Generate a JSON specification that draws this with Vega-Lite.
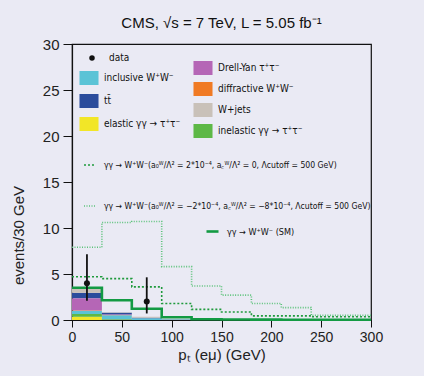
{
  "$schema": "https://vega.github.io/schema/vega-lite/v6.json",
  "width": 299,
  "height": 276,
  "autosize": "none",
  "padding": {"left": 72, "top": 44, "right": 53, "bottom": 56},
  "background": "#eaeaf4",
  "title": {"text": "CMS, √s = 7 TeV, L = 5.05 fb⁻¹", "fontSize": 15, "fontWeight": "normal", "font": "Liberation Sans", "color": "#111", "offset": 6, "anchor": "middle"},
  "config": {
    "view": {"stroke": "#111", "strokeWidth": 1.2},
    "font": "Liberation Sans",
    "legend": {"labelFont": "Liberation Sans Narrow, DejaVu Sans Condensed, Liberation Sans", "labelFontSize": 10, "labelColor": "#111", "padding": 0, "labelLimit": 400, "title": null}
  },
  "datasets": {
    "bars": [
      {"bin_start": 0, "bin_end": 30, "process": "elastic γγ → τ⁺τ⁻", "events": 0.35},
      {"bin_start": 0, "bin_end": 30, "process": "inelastic γγ → τ⁺τ⁻", "events": 0.3},
      {"bin_start": 0, "bin_end": 30, "process": "inclusive W⁺W⁻", "events": 0.35},
      {"bin_start": 0, "bin_end": 30, "process": "diffractive W⁺W⁻", "events": 0.05},
      {"bin_start": 0, "bin_end": 30, "process": "Drell-Yan τ⁺τ⁻", "events": 1.3},
      {"bin_start": 0, "bin_end": 30, "process": "tt̄", "events": 0.6},
      {"bin_start": 0, "bin_end": 30, "process": "W+jets", "events": 0.45},
      {"bin_start": 30, "bin_end": 60, "process": "elastic γγ → τ⁺τ⁻", "events": 0.02},
      {"bin_start": 30, "bin_end": 60, "process": "inelastic γγ → τ⁺τ⁻", "events": 0.05},
      {"bin_start": 30, "bin_end": 60, "process": "inclusive W⁺W⁻", "events": 0.45},
      {"bin_start": 30, "bin_end": 60, "process": "diffractive W⁺W⁻", "events": 0.02},
      {"bin_start": 30, "bin_end": 60, "process": "Drell-Yan τ⁺τ⁻", "events": 0.05},
      {"bin_start": 30, "bin_end": 60, "process": "tt̄", "events": 0.2},
      {"bin_start": 30, "bin_end": 60, "process": "W+jets", "events": 0.05},
      {"bin_start": 60, "bin_end": 90, "process": "inclusive W⁺W⁻", "events": 0.2},
      {"bin_start": 60, "bin_end": 90, "process": "tt̄", "events": 0.05},
      {"bin_start": 60, "bin_end": 90, "process": "W+jets", "events": 0.1},
      {"bin_start": 90, "bin_end": 120, "process": "inclusive W⁺W⁻", "events": 0.05},
      {"bin_start": 120, "bin_end": 150, "process": "inclusive W⁺W⁻", "events": 0.03}
    ],
    "lines": [
      {"series": "a", "x": 0, "events": 4.7},
      {"series": "a", "x": 30, "events": 4.5},
      {"series": "a", "x": 60, "events": 3.6},
      {"series": "a", "x": 90, "events": 1.8},
      {"series": "a", "x": 120, "events": 1.15},
      {"series": "a", "x": 150, "events": 0.87},
      {"series": "a", "x": 180, "events": 0.45},
      {"series": "a", "x": 210, "events": 0.45},
      {"series": "a", "x": 240, "events": 0.35},
      {"series": "a", "x": 270, "events": 0.35},
      {"series": "a", "x": 300, "events": 0.35},
      {"series": "b", "x": 0, "events": 7.9},
      {"series": "b", "x": 30, "events": 10.6},
      {"series": "b", "x": 60, "events": 10.7},
      {"series": "b", "x": 90, "events": 5.8},
      {"series": "b", "x": 120, "events": 3.7},
      {"series": "b", "x": 150, "events": 2.7},
      {"series": "b", "x": 180, "events": 1.8},
      {"series": "b", "x": 210, "events": 1.35},
      {"series": "b", "x": 240, "events": 0.5},
      {"series": "b", "x": 270, "events": 0.5},
      {"series": "b", "x": 300, "events": 0.5}
    ],
    "sm": [
      {"series": "γγ → W⁺W⁻ (SM)", "x": 0, "events": 3.5},
      {"series": "γγ → W⁺W⁻ (SM)", "x": 30, "events": 2.15},
      {"series": "γγ → W⁺W⁻ (SM)", "x": 60, "events": 1.23},
      {"series": "γγ → W⁺W⁻ (SM)", "x": 90, "events": 0.3},
      {"series": "γγ → W⁺W⁻ (SM)", "x": 120, "events": 0.08},
      {"series": "γγ → W⁺W⁻ (SM)", "x": 150, "events": 0.05},
      {"series": "γγ → W⁺W⁻ (SM)", "x": 180, "events": 0.04},
      {"series": "γγ → W⁺W⁻ (SM)", "x": 210, "events": 0.03},
      {"series": "γγ → W⁺W⁻ (SM)", "x": 240, "events": 0.03},
      {"series": "γγ → W⁺W⁻ (SM)", "x": 270, "events": 0.02},
      {"series": "γγ → W⁺W⁻ (SM)", "x": 300, "events": 0.02}
    ],
    "points": [
      {"label": "data", "x": 15, "events": 4, "lo": 2.09, "hi": 7.16},
      {"label": "data", "x": 75, "events": 2, "lo": 0.71, "hi": 4.64}
    ]
  },
  "layer": [
    {
      "data": {"name": "bars"},
      "transform": [
        {"window": [{"op": "row_number", "as": "idx"}]},
        {"stack": "events", "groupby": ["bin_start"], "sort": [{"field": "idx", "order": "ascending"}], "as": ["y0", "y1"]},
        {"filter": {"field": "process", "oneOf": ["inclusive W⁺W⁻", "tt̄", "elastic γγ → τ⁺τ⁻"]}}
      ],
      "mark": {"type": "rect", "strokeWidth": 0},
      "encoding": {
        "x": {"field": "bin_start", "type": "quantitative", "scale": {"domain": [0, 300], "nice": false}, "axis": {"values": [0, 50, 100, 150, 200, 250, 300], "title": "pₜ (eμ) (GeV)", "titleFontSize": 15, "titleFontWeight": "normal", "titleColor": "#222", "titlePadding": 3, "labelFontSize": 14, "labelColor": "#222", "labelPadding": 3, "tickSize": 7, "tickColor": "#111", "domainColor": "#111", "domainWidth": 1.2, "grid": false, "labelFlush": false}},
        "x2": {"field": "bin_end"},
        "y": {"field": "y0", "type": "quantitative", "scale": {"domain": [0, 30], "nice": false}, "axis": {"values": [0, 5, 10, 15, 20, 25, 30], "title": "events/30 GeV", "titleFontSize": 15, "titleFontWeight": "normal", "titleColor": "#222", "titleX": -46, "titleY": 191, "labelFontSize": 15, "labelColor": "#222", "labelPadding": 4, "tickSize": 9, "tickColor": "#111", "domainColor": "#111", "domainWidth": 1.2, "grid": false, "labelFlush": false}},
        "y2": {"field": "y1"},
        "fill": {"field": "process", "type": "nominal", "scale": {"domain": ["inclusive W⁺W⁻", "tt̄", "elastic γγ → τ⁺τ⁻"], "range": ["#5bc3d6", "#2b4c9c", "#f2e627"]}, "legend": {"orient": "none", "legendX": 10, "legendY": 27, "direction": "vertical", "symbolType": "M-1.36,-1H1.36V1H-1.36Z", "symbolSize": 196, "symbolStrokeWidth": 0, "symbolOpacity": 1, "labelOffset": 8, "rowPadding": 9}}
      }
    },
    {
      "data": {"name": "bars"},
      "transform": [
        {"window": [{"op": "row_number", "as": "idx"}]},
        {"stack": "events", "groupby": ["bin_start"], "sort": [{"field": "idx", "order": "ascending"}], "as": ["y0", "y1"]},
        {"filter": {"field": "process", "oneOf": ["Drell-Yan τ⁺τ⁻", "diffractive W⁺W⁻", "W+jets", "inelastic γγ → τ⁺τ⁻"]}}
      ],
      "mark": {"type": "rect", "strokeWidth": 0},
      "encoding": {
        "x": {"field": "bin_start", "type": "quantitative"},
        "x2": {"field": "bin_end"},
        "y": {"field": "y0", "type": "quantitative"},
        "y2": {"field": "y1"},
        "fill": {"field": "process", "type": "nominal", "scale": {"domain": ["Drell-Yan τ⁺τ⁻", "diffractive W⁺W⁻", "W+jets", "inelastic γγ → τ⁺τ⁻"], "range": ["#b566b6", "#f07a24", "#c9c1b9", "#5db846"]}, "legend": {"orient": "none", "legendX": 124, "legendY": 17, "direction": "vertical", "symbolType": "M-1.36,-1H1.36V1H-1.36Z", "symbolSize": 196, "symbolStrokeWidth": 0, "symbolOpacity": 1, "labelOffset": 8, "rowPadding": 7}}
      }
    },
    {
      "data": {"name": "lines"},
      "mark": {"type": "line", "interpolate": "step-after", "strokeWidth": 1.6},
      "encoding": {
        "x": {"field": "x", "type": "quantitative"},
        "y": {"field": "events", "type": "quantitative"},
        "stroke": {"field": "series", "type": "nominal", "scale": {"domain": ["a", "b"], "range": ["#1f9a3c", "#5cc27a"]}, "legend": {"orient": "none", "legendX": 11, "legendY": 114, "direction": "vertical", "symbolType": "stroke", "symbolSize": 144, "symbolStrokeWidth": 1.6, "labelOffset": 7, "labelFontSize": 8.6, "rowPadding": 29, "labelExpr": "datum.value == 'a' ? 'γγ → W⁺W⁻(a₀ᵂ/Λ² = 2*10⁻⁴, a꜀ᵂ/Λ² = 0, Λcutoff = 500 GeV)' : 'γγ → W⁺W⁻(a₀ᵂ/Λ² = −2*10⁻⁴, a꜀ᵂ/Λ² = −8*10⁻⁴, Λcutoff = 500 GeV)'"}},
        "strokeDash": {"field": "series", "type": "nominal", "scale": {"domain": ["a", "b"], "range": [[2, 2], [1, 1.5]]}, "legend": {"orient": "none", "legendX": 11, "legendY": 114, "direction": "vertical", "symbolType": "stroke", "symbolSize": 144, "symbolStrokeWidth": 1.6, "labelOffset": 7, "labelFontSize": 8.6, "rowPadding": 29, "labelExpr": "datum.value == 'a' ? 'γγ → W⁺W⁻(a₀ᵂ/Λ² = 2*10⁻⁴, a꜀ᵂ/Λ² = 0, Λcutoff = 500 GeV)' : 'γγ → W⁺W⁻(a₀ᵂ/Λ² = −2*10⁻⁴, a꜀ᵂ/Λ² = −8*10⁻⁴, Λcutoff = 500 GeV)'"}}
      }
    },
    {
      "data": {"name": "sm"},
      "mark": {"type": "line", "interpolate": "step-after", "strokeWidth": 2.6},
      "encoding": {
        "x": {"field": "x", "type": "quantitative"},
        "y": {"field": "events", "type": "quantitative"},
        "stroke": {"field": "series", "type": "nominal", "scale": {"range": ["#139a43"]}, "legend": {"orient": "none", "legendX": 133, "legendY": 180, "symbolType": "stroke", "symbolSize": 144, "symbolStrokeWidth": 2.6, "labelOffset": 7, "labelFontSize": 9}}
      }
    },
    {
      "data": {"name": "points"},
      "mark": {"type": "rule", "color": "#111", "strokeWidth": 1.8},
      "encoding": {
        "x": {"field": "x", "type": "quantitative"},
        "y": {"field": "lo", "type": "quantitative"},
        "y2": {"field": "hi"}
      }
    },
    {
      "data": {"name": "points"},
      "mark": {"type": "point", "filled": true, "color": "#111", "opacity": 1, "size": 36},
      "encoding": {
        "x": {"field": "x", "type": "quantitative"},
        "y": {"field": "events", "type": "quantitative"},
        "shape": {"field": "label", "type": "nominal", "scale": {"range": ["circle"]}, "legend": {"orient": "none", "legendX": 15, "legendY": 9, "symbolSize": 30, "symbolFillColor": "#111", "symbolStrokeColor": "#111", "labelOffset": 12}}
      }
    }
  ],
  "resolve": {"scale": {"fill": "independent", "stroke": "independent", "strokeDash": "independent", "shape": "independent"}}
}
